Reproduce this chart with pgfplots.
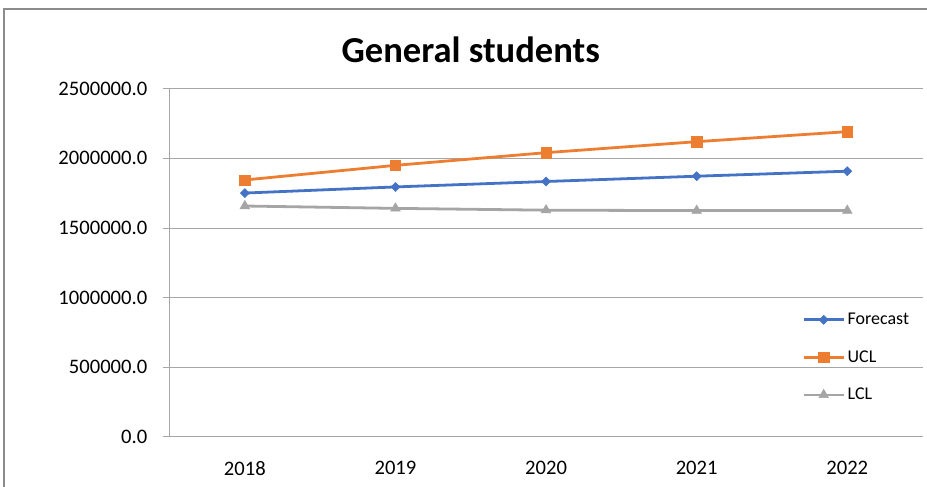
\documentclass[border=0pt]{standalone}
\usepackage{pgfplots}
\pgfplotsset{compat=1.18}
\usepackage{fontspec}
\setmainfont{Carlito}

\definecolor{fcblue}{HTML}{4472C4}
\definecolor{uclorange}{HTML}{ED7D31}
\definecolor{lclgray}{HTML}{A5A5A5}
\definecolor{gridgray}{HTML}{A6A6A6}
\definecolor{framegray}{HTML}{8C8C8C}

\begin{document}
\begin{tikzpicture}
  % picture frame in pixel units of the reference (1px = 0.75pt)
  \begin{scope}[x=0.75pt,y=-0.75pt]
    \path[use as bounding box] (0,0) rectangle (927,488);
    \draw[framegray, line width=0.9pt] (4,490) -- (4,9) -- (930,9);
    \node[font=\fontsize{27.5}{32}\selectfont\bfseries] at (472,50) {General students};
  \end{scope}

  \begin{axis}[
    at={(127.5pt,-328.5pt)},
    anchor=south west,
    scale only axis,
    width=566.25pt,
    height=261.75pt,
    xmin=-0.5, xmax=4.5,
    ymin=0, ymax=2500000,
    axis x line*=bottom,
    axis y line*=left,
    axis line style={draw=gridgray, line width=0.75pt},
    tick align=outside,
    major tick length=5.25pt,
    tick style={draw=gridgray, line width=0.75pt},
    xtick={0,1,2,3,4},
    xticklabels={2018,2019,2020,2021,2022},
    xtick style={draw=none},
    extra x ticks={-0.5,0.5,1.5,2.5,3.5,4.5},
    extra x tick labels={},
    extra x tick style={grid=none, major tick length=6.75pt,
      tick style={draw=gridgray, line width=0.75pt}},
    ytick={0,500000,1000000,1500000,2000000,2500000},
    ymajorgrids,
    grid style={draw=gridgray, line width=0.75pt},
    scaled y ticks=false,
    yticklabel style={/pgf/number format/fixed, /pgf/number format/fixed zerofill,
      /pgf/number format/precision=1, /pgf/number format/1000 sep={},
      /pgf/number format/assume math mode=true, xshift=-8pt},
    ticklabel style={font=\fontsize{15.5}{18}\selectfont},
    xticklabel style={yshift=-9.4pt},
    legend style={at={(rel axis cs:0.84,0.364)}, anchor=north west,
      draw=none, fill=none, inner sep=0pt,
      font=\fontsize{13.5}{16}\selectfont,
      row sep=14pt},
    legend cell align=left,
    legend image code/.code={
      \draw[mark repeat=2, mark phase=2]
        plot coordinates {(0pt,0pt) (15pt,0pt) (30pt,0pt)};
    },
    every axis plot/.append style={line width=2.1pt},
    clip=false,
  ]
    \addplot[color=fcblue, mark=square*, mark size=2.4pt,
      mark options={solid, rotate=45, line width=0.4pt}]
      coordinates {(0,1751000) (1,1795000) (2,1834000) (3,1872000) (4,1908000)};
    \addlegendentry{Forecast}

    \addplot[color=uclorange, mark=square*, mark size=3.9pt,
      mark options={solid, line width=0.4pt}]
      coordinates {(0,1845000) (1,1950000) (2,2041000) (3,2120000) (4,2192000)};
    \addlegendentry{UCL}

    \addplot[color=lclgray, mark=triangle*, mark size=4.2pt,
      mark options={solid, line width=0.4pt}]
      coordinates {(0,1658000) (1,1641000) (2,1628000) (3,1625000) (4,1625000)};
    \addlegendentry{LCL}
  \end{axis}
\end{tikzpicture}
\end{document}
